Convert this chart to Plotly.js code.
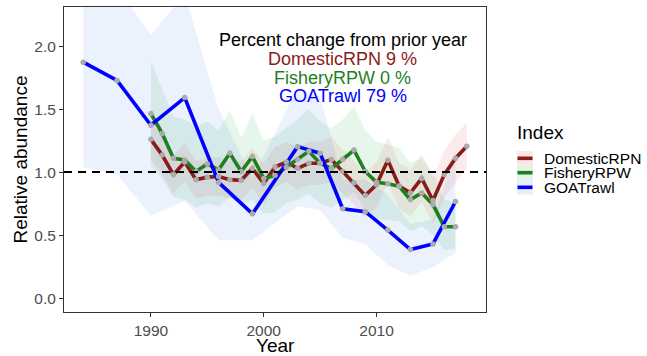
<!DOCTYPE html>
<html>
<head>
<meta charset="utf-8">
<script src="https://cdn.plot.ly/plotly-3.0.1.min.js"></script>
<style>html,body{margin:0;padding:0;background:#fff}#chart{width:647px;height:356px}</style>
</head>
<body>
<div id="chart"></div>
<script>
// ---- data ----
const seriesNames = ["DomesticRPN", "FisheryRPW", "GOATrawl"];
const pctChange = [9, 0, 79];

const yearsRPN = [1990,1991,1992,1993,1994,1995,1996,1997,1998,1999,2000,2001,2002,2003,2004,2005,2006,2007,2008,2009,2010,2011,2012,2013,2014,2015,2016,2017,2018];
const rpn   = [1.26,1.135,0.98,1.08,0.94,0.96,0.965,0.94,0.935,1.03,0.91,1.04,1.08,1.03,1.07,1.07,1.10,1.005,0.915,0.815,0.90,1.095,0.89,0.835,0.95,0.775,0.98,1.11,1.205];
const rpnHi = [1.42,1.29,1.13,1.23,1.09,1.11,1.12,1.09,1.09,1.19,1.07,1.20,1.24,1.20,1.24,1.24,1.28,1.18,1.09,0.99,1.08,1.28,1.07,1.02,1.14,0.96,1.17,1.30,1.39];
const rpnLo = [1.10,0.98,0.83,0.93,0.79,0.81,0.81,0.79,0.78,0.87,0.75,0.88,0.92,0.86,0.90,0.90,0.92,0.83,0.74,0.64,0.72,0.91,0.71,0.65,0.76,0.59,0.79,0.92,1.02];

const yearsRPW = [1990,1991,1992,1993,1994,1995,1996,1997,1998,1999,2000,2001,2002,2003,2004,2005,2006,2007,2008,2009,2010,2011,2012,2013,2014,2015,2016,2017];
const rpw   = [1.465,1.307,1.11,1.097,1.005,1.065,1.018,1.15,1.005,1.123,0.95,0.975,1.04,1.10,1.165,1.07,1.03,1.10,1.175,1.005,0.92,0.908,0.887,0.782,0.835,0.742,0.567,0.567];
const rpwHi = [1.88,1.66,1.44,1.42,1.36,1.40,1.33,1.49,1.27,1.465,1.25,1.28,1.35,1.42,1.50,1.40,1.35,1.42,1.52,1.33,1.24,1.22,1.19,1.07,1.11,1.00,0.78,0.76];
const rpwLo = [1.05,0.95,0.80,0.78,0.72,0.75,0.73,0.80,0.74,0.78,0.67,0.68,0.75,0.78,0.83,0.75,0.72,0.78,0.84,0.70,0.63,0.62,0.61,0.53,0.57,0.50,0.38,0.39];

const yearsGOA = [1984,1987,1990,1993,1996,1999,2003,2005,2007,2009,2011,2013,2015,2017];
const goa   = [1.872,1.727,1.372,1.591,0.918,0.669,1.202,1.15,0.709,0.686,0.54,0.385,0.43,0.767];
const goaHi = [2.70,2.47,2.09,2.41,1.50,0.95,1.67,1.60,0.94,0.94,0.82,0.59,0.62,1.17];
const goaLo = [1.04,0.98,0.655,0.77,0.46,0.46,0.73,0.70,0.48,0.43,0.26,0.18,0.245,0.36];

const xTicks = [1990, 2000, 2010];
const yTicks = [0, 0.5, 1, 1.5, 2];
const yTickText = ["0.0", "0.5", "1.0", "1.5", "2.0"];
const refLine = 1;
const xTitle = "Year";
const yTitle = "Relative abundance";

// ---- styles ----
const FONT = "Liberation Sans, Arial, sans-serif";
const lineCols = ["#8b1a1a", "#1f7f1f", "#0000ff"];
const fillCols = ["rgba(230,60,60,0.10)", "rgba(40,170,70,0.11)", "rgba(30,110,230,0.085)"];
const keyBg = ["#fbe6e6", "#e3f3e6", "#e8effb"];

const groups = [
  {x: yearsRPN, y: rpn, lo: rpnLo, hi: rpnHi},
  {x: yearsRPW, y: rpw, lo: rpwLo, hi: rpwHi},
  {x: yearsGOA, y: goa, lo: goaLo, hi: goaHi}
];

const traces = [];
groups.forEach((g, i) => {
  traces.push({x: g.x, y: g.lo, type: "scatter", mode: "lines", line: {width: 0, color: fillCols[i]}, showlegend: false, hoverinfo: "skip"});
  traces.push({x: g.x, y: g.hi, type: "scatter", mode: "lines", fill: "tonexty", fillcolor: fillCols[i], line: {width: 0, color: fillCols[i]}, showlegend: false, hoverinfo: "skip"});
});
groups.forEach((g, i) => {
  traces.push({x: g.x, y: g.y, type: "scatter", mode: "lines", name: seriesNames[i], line: {width: 3.6, color: lineCols[i]}, showlegend: false});
});
groups.forEach((g, i) => {
  traces.push({x: g.x, y: g.y, type: "scatter", mode: "markers", marker: {size: 5.5, color: "#ababab"}, showlegend: false, hoverinfo: "skip"});
});

// plot area in px: x 64..486, y 7..312
const L = 64, R = 486, T = 7, B = 312;
const px = v => (v - L) / (R - L);
const py = v => (B - v) / (B - T);

const annotations = [
  {text: "Percent change from prior year", x: px(343), y: py(40.5), xref: "paper", yref: "paper", xanchor: "center", yanchor: "middle", showarrow: false, font: {family: FONT, size: 18, color: "#000"}},
  {text: xTitle, x: px(275), y: py(345.5), xref: "paper", yref: "paper", xanchor: "center", yanchor: "middle", showarrow: false, font: {family: FONT, size: 19, color: "#000"}},
  {text: yTitle, x: px(20), y: py(159.5), xref: "paper", yref: "paper", xanchor: "center", yanchor: "middle", textangle: -90, showarrow: false, font: {family: FONT, size: 19, color: "#000"}}
];

const lineYs = [59.5, 77.7, 95.7];
seriesNames.forEach((n, i) => {
  annotations.push({text: n + " " + pctChange[i] + " %", x: px(342.5), y: py(lineYs[i]), xref: "paper", yref: "paper", xanchor: "center", yanchor: "middle", showarrow: false, font: {family: FONT, size: 18, color: lineCols[i]}});
});

// custom legend
annotations.push({text: "Index", x: px(515), y: py(132), xref: "paper", yref: "paper", xanchor: "left", yanchor: "middle", showarrow: false, font: {family: FONT, size: 19, color: "#000"}});
const legYs = [158.3, 172.7, 187.3];
const shapes = [
  {type: "line", xref: "paper", yref: "y", x0: 0, x1: 1, y0: refLine, y1: refLine, line: {color: "#000", width: 2, dash: "8px,6px"}, layer: "above"}
];
seriesNames.forEach((n, i) => {
  annotations.push({text: n, x: px(542), y: py(legYs[i]), xref: "paper", yref: "paper", xanchor: "left", yanchor: "middle", showarrow: false, font: {family: FONT, size: 15.5, color: "#000"}});
  shapes.push({type: "rect", xref: "paper", yref: "paper", x0: px(517), x1: px(533), y0: py(legYs[i] - 7.2), y1: py(legYs[i] + 7.2), fillcolor: keyBg[i], line: {width: 0}, layer: "above"});
  shapes.push({type: "line", xref: "paper", yref: "paper", x0: px(517.5), x1: px(532.5), y0: py(legYs[i]), y1: py(legYs[i]), line: {color: lineCols[i], width: 3.6}, layer: "above"});
});

const axisCommon = {
  showgrid: false, zeroline: false, showline: true, mirror: true, linecolor: "#333", linewidth: 1,
  ticks: "outside", ticklen: 4, tickcolor: "#333", tickwidth: 1,
  tickfont: {family: FONT, size: 15.5, color: "#4d4d4d"}
};

const layout = {
  width: 647, height: 356,
  margin: {l: L, r: 647 - R, t: T, b: 356 - B, pad: 0},
  paper_bgcolor: "#fff", plot_bgcolor: "#fff",
  font: {family: FONT},
  showlegend: false,
  xaxis: Object.assign({}, axisCommon, {range: [1982.3, 2019.7], tickvals: xTicks}),
  yaxis: Object.assign({}, axisCommon, {range: [-0.11, 2.31], tickvals: yTicks, ticktext: yTickText}),
  annotations: annotations,
  shapes: shapes
};

Plotly.newPlot("chart", traces, layout, {staticPlot: true, displayModeBar: false});
</script>
</body>
</html>
